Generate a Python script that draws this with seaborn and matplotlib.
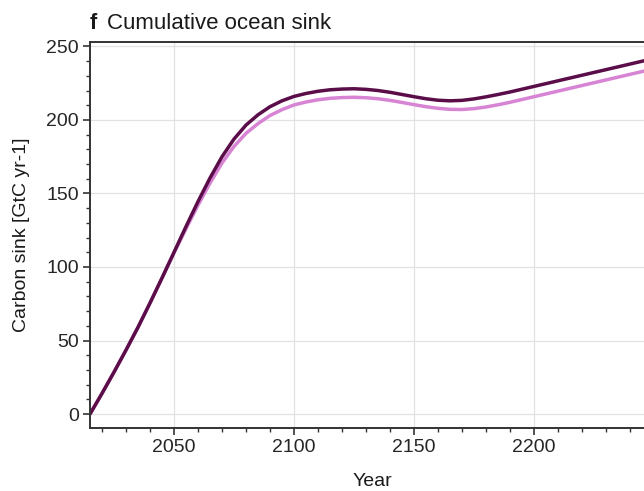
import numpy as np
import pandas as pd
import matplotlib
matplotlib.use("Agg")
import matplotlib.pyplot as plt
import seaborn as sns
from matplotlib.ticker import MultipleLocator

years = list(range(2015, 2255, 5))
dark = [0, 14, 28.5, 43.5, 59, 75.5, 92.5, 110,
        127.5, 144.5, 160.5, 175, 187, 196.5, 203.5, 209, 213, 216,
        218, 219.5, 220.5, 221, 221.2, 220.8, 220, 218.8, 217.3, 215.8,
        214.4, 213.4, 213, 213.3, 214.3, 215.7, 217.3, 219, 220.9, 222.8,
        224.7, 226.6, 228.5, 230.4, 232.3, 234.2, 236.1, 238, 239.9, 241.8]
light = [0, 14, 28.5, 43.5, 59, 75.5, 92.5,
         109.5, 126, 142, 157, 170.7, 182, 190.9, 197.5, 203, 207, 210.2,
         212.2, 213.7, 214.7, 215.2, 215.4, 215.1, 214.4, 213.3, 211.9, 210.4,
         209, 207.9, 207.2, 207.1, 207.7, 208.8, 210.3, 212, 213.9, 215.8,
         217.7, 219.6, 221.5, 223.4, 225.3, 227.2, 229.1, 231, 232.9, 234.8]

sns.set_theme(style="white")
plt.rcParams['font.family'] = ['Liberation Sans', 'DejaVu Sans']

df = pd.DataFrame({
    "Year": years * 2,
    "value": light + dark,
    "series": ["light"] * len(years) + ["dark"] * len(years),
})

W, H = 644, 491
fig = plt.figure(figsize=(W / 100, H / 100), dpi=100)
left, right, top, bottom = 90, 654, 42, 428
ax = fig.add_axes([left / W, (H - bottom) / H, (right - left) / W, (bottom - top) / H])

sns.lineplot(data=df, x="Year", y="value", hue="series",
             palette={"light": "#d884d4", "dark": "#5a0d48"},
             linewidth=2.5, ax=ax, legend=False)
for ln in ax.get_lines():
    ln.set_solid_joinstyle("round")

ax.set_xlim(2015, 2250)
ax.set_ylim(-9.5, 253)
ax.set_xticks([2050, 2100, 2150, 2200])
ax.set_yticks([0, 50, 100, 150, 200, 250])
ax.xaxis.set_minor_locator(MultipleLocator(10))
ax.yaxis.set_minor_locator(MultipleLocator(10))
ax.grid(True, which="major", color="#e2e2e2", linewidth=0.9)
ax.set_axisbelow(True)
ax.tick_params(axis="both", which="major", direction="out", length=5, width=1.2,
               color="#333333", labelsize=14, pad=3, bottom=True, left=True)
ax.tick_params(axis="both", which="minor", direction="out", length=3, width=1.0,
               color="#333333", bottom=True, left=True)
for s in ax.spines.values():
    s.set_color("#333333")
    s.set_linewidth(1.4)
ax.set_xlabel("Year", fontsize=14, color="#1a1a1a", labelpad=12)
ax.set_ylabel("Carbon sink [GtC yr-1]", fontsize=14, color="#1a1a1a", labelpad=12)

ax.text(0, 1.02, "f", transform=ax.transAxes, fontsize=15.5, fontweight="bold",
        ha="left", va="bottom", color="#1a1a1a")
ax.text(0.031, 1.02, "Cumulative ocean sink", transform=ax.transAxes, fontsize=16,
        ha="left", va="bottom", color="#1a1a1a")

fig.savefig("out.png", dpi=100)
